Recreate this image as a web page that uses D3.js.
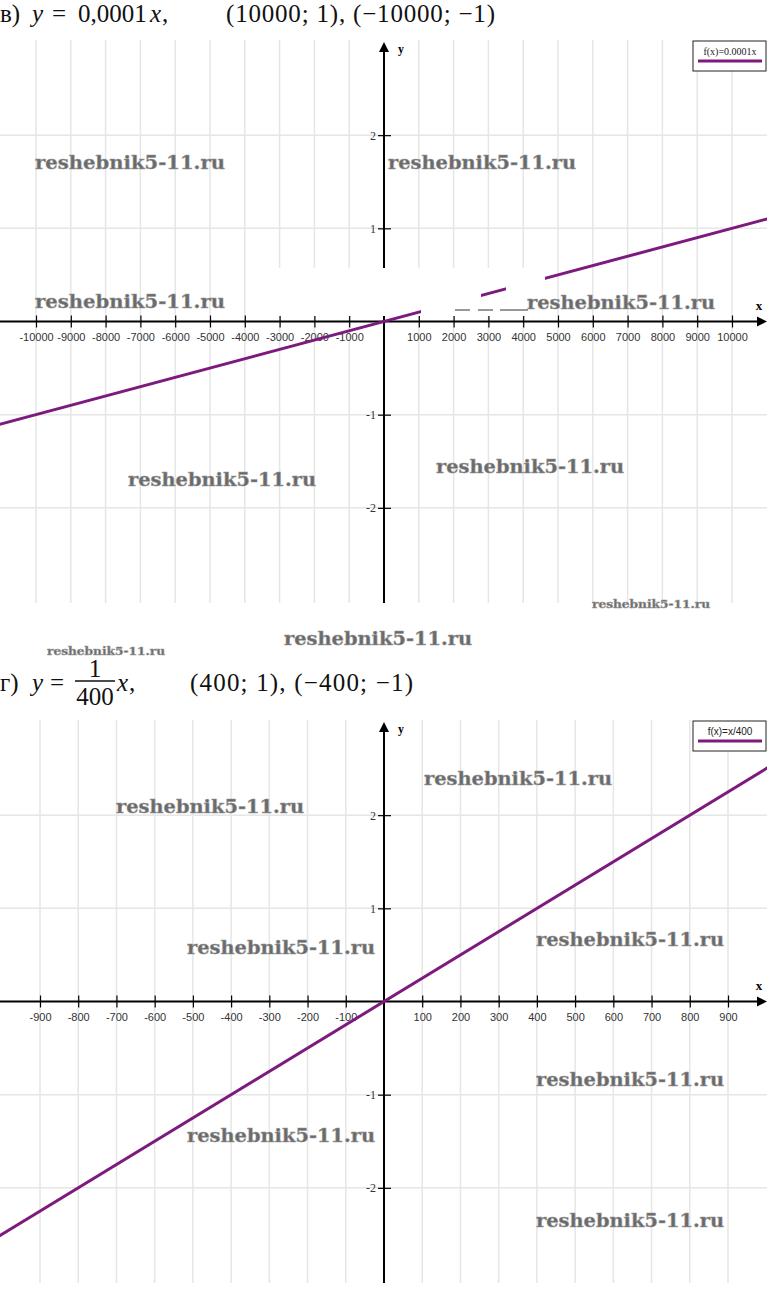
<!DOCTYPE html>
<html lang="ru">
<head>
<meta charset="UTF-8">
<title>y = 0,0001x и y = x/400</title>
<script src="https://d3js.org/d3.v7.min.js"></script>
<style>
  body, html { margin: 0; padding: 0; background: #fff; }
  svg { display: block; }
  .tick text { font-family: "Liberation Sans", Arial, sans-serif; font-size: 11px; fill: #333; }
  .wm { font-family: "DejaVu Serif", serif; font-weight: bold; fill: #6a6a6a; stroke: #9a9a9a; stroke-width: 0.5px; }
  .hdr { font-family: "Liberation Serif", "Times New Roman", serif; font-size: 25px; fill: #111; }
</style>
</head>
<body>
<svg id="chart" width="767" height="1316"></svg>
<script>
// --- chart 1: y = 0,0001x
var topXTicks = [-10000, -9000, -8000, -7000, -6000, -5000, -4000, -3000, -2000, -1000,
                 1000, 2000, 3000, 4000, 5000, 6000, 7000, 8000, 9000, 10000];
var topYTicks = [-2, -1, 1, 2];
var topLineX = [-11100, 11100];
var topLineY = [-1.11, 1.11];
var topLegend = "f(x)=0.0001x";

// --- chart 2: y = x/400
var botXTicks = [-900, -800, -700, -600, -500, -400, -300, -200, -100,
                 100, 200, 300, 400, 500, 600, 700, 800, 900];
var botYTicks = [-2, -1, 1, 2];
var botLineX = [-1010, 1010];
var botLineY = [-2.525, 2.525];
var botLegend = "f(x)=x/400";

// watermarks: [x, baseline, size, width]
var marks = [
  [35, 169, 19, 190], [388, 169, 19, 188], [35, 308, 19, 190], [527, 309, 19, 188],
  [128, 486, 19, 188], [436, 473, 19, 188], [592, 608, 11, 118], [284, 645, 19, 188],
  [47, 655, 11, 118],
  [424, 785, 19, 188], [116, 813, 19, 188], [536, 946, 19, 188], [187, 954, 19, 188],
  [536, 1086, 19, 188], [187, 1142, 19, 188], [536, 1227, 19, 188]
];

var svg = d3.select("#chart"),
    W = 767;

var plain = function (d) { return String(d); };   // "-10000", no grouping, plain hyphen

function drawPlot(opt) {
  var g = svg.append("g");
  var x = d3.scaleLinear().domain(opt.xd).range(opt.xr),
      y = d3.scaleLinear().domain([-3, 3]).range([opt.bottom, opt.top]);
  var x0 = x(0), y0 = y(0);

  // grid
  g.selectAll(".vg").data(opt.xt).enter().append("line")
    .attr("x1", d => x(d)).attr("x2", d => x(d))
    .attr("y1", opt.top - 2).attr("y2", opt.bottom + 2)
    .attr("stroke", "#e6e6e6").attr("stroke-width", 1.5);
  g.selectAll(".hg").data(opt.yt).enter().append("line")
    .attr("x1", 0).attr("x2", W)
    .attr("y1", d => y(d)).attr("y2", d => y(d))
    .attr("stroke", "#e6e6e6").attr("stroke-width", 1.5);

  // x axis
  var xa = g.append("g").attr("transform", "translate(0," + y0 + ")")
    .call(d3.axisBottom(x).tickValues(opt.xt).tickSizeInner(6).tickSizeOuter(0).tickPadding(6).tickFormat(plain));
  xa.select(".domain").remove();
  xa.selectAll(".tick line").attr("y1", -6).attr("stroke", "#000").attr("stroke-width", 1.2);
  g.append("line").attr("x1", 0).attr("x2", W - 6).attr("y1", y0).attr("y2", y0)
    .attr("stroke", "#000").attr("stroke-width", 2);
  g.append("path").attr("d", d3.line()([[W - 10, y0 - 5], [W, y0], [W - 10, y0 + 5]]) + "Z")
    .attr("fill", "#000");
  g.append("text").attr("x", W - 8).attr("y", y0 - 12).attr("text-anchor", "middle")
    .style("font", "bold 13px 'Liberation Serif', serif").text("x");

  // y axis
  var ya = g.append("g").attr("transform", "translate(" + x0 + ",0)")
    .call(d3.axisLeft(y).tickValues(opt.yt).tickSizeInner(6).tickSizeOuter(0).tickPadding(2).tickFormat(plain));
  ya.select(".domain").remove();
  ya.selectAll(".tick line").attr("x1", 7).attr("stroke", "#000").attr("stroke-width", 1.2);
  ya.selectAll(".tick text").style("font-family", "'Liberation Serif', serif").style("font-size", "12px");
  g.append("line").attr("x1", x0).attr("x2", x0).attr("y1", opt.top + 6).attr("y2", opt.bottom + 2)
    .attr("stroke", "#000").attr("stroke-width", 2);
  g.append("path").attr("d", d3.line()([[x0 - 5, opt.top + 10], [x0, opt.top], [x0 + 5, opt.top + 10]]) + "Z")
    .attr("fill", "#000");
  g.append("text").attr("x", x0 + 17).attr("y", opt.top + 11).attr("text-anchor", "middle")
    .style("font", "bold 12px 'Liberation Serif', serif").text("y");

  if (opt.mask) opt.mask(g, x, y);

  // function line
  g.append("path")
    .attr("d", d3.line().x(d => x(d[0])).y(d => y(d[1]))(d3.zip(opt.lx, opt.ly)))
    .attr("fill", "none").attr("stroke", "#7d1a7d").attr("stroke-width", 3);

  if (opt.mask2) opt.mask2(g, x, y);

  // legend
  var lg = g.append("g").attr("transform", "translate(693," + (opt.top - 1) + ")");
  lg.append("rect").attr("width", 73).attr("height", 30).attr("fill", "#fff")
    .attr("stroke", "#222").attr("stroke-width", 1);
  lg.append("text").attr("x", 37).attr("y", 14).attr("text-anchor", "middle")
    .style("font-family", opt.legendFont).style("font-size", "10px").attr("fill", "#222")
    .text(opt.legend);
  lg.append("line").attr("x1", 5).attr("x2", 69).attr("y1", 20).attr("y2", 20)
    .attr("stroke", "#7d1a7d").attr("stroke-width", 3);
}

drawPlot({
  xd: [-10000, 10000], xr: [36, 732], top: 42, bottom: 601,
  xt: topXTicks, yt: topYTicks, lx: topLineX, ly: topLineY,
  legend: topLegend, legendFont: "'Liberation Serif', serif",
  mask: function (g) {
    // erased patch near the origin
    g.append("rect").attr("x", 258).attr("y", 268).attr("width", 287).attr("height", 48).attr("fill", "#fff");
  },
  mask2: function (g) {
    g.append("rect").attr("x", 421).attr("y", 268).attr("width", 60).attr("height", 46).attr("fill", "#fff");
    g.append("rect").attr("x", 506).attr("y", 268).attr("width", 39).attr("height", 34).attr("fill", "#fff");
    g.append("path").attr("d", "M455,310H470M478,310H493M500,310H528")
      .attr("stroke", "#333").attr("stroke-width", 1).attr("fill", "none");
  }
});

drawPlot({
  xd: [-900, 900], xr: [40, 728], top: 722, bottom: 1281,
  xt: botXTicks, yt: botYTicks, lx: botLineX, ly: botLineY,
  legend: botLegend, legendFont: "'Liberation Sans', sans-serif"
});

// headers
var h1 = svg.append("text").attr("class", "hdr").attr("y", 22);
h1.append("tspan").attr("x", 0).text("в)");
h1.append("tspan").attr("x", 32).style("font-style", "italic").text("y");
h1.append("tspan").attr("x", 52).text("=");
h1.append("tspan").attr("x", 78).text("0,0001");
h1.append("tspan").attr("x", 150).style("font-style", "italic").text("x");
h1.append("tspan").attr("x", 162).text(",");
svg.append("text").attr("class", "hdr").attr("x", 226).attr("y", 22)
  .attr("textLength", 269).attr("lengthAdjust", "spacing")
  .text("(10000; 1), (−10000; −1)");

var h2 = svg.append("text").attr("class", "hdr").attr("y", 691);
h2.append("tspan").attr("x", 0).text("г)");
h2.append("tspan").attr("x", 32).style("font-style", "italic").text("y");
h2.append("tspan").attr("x", 50).text("=");
h2.append("tspan").attr("x", 117).style("font-style", "italic").text("x");
h2.append("tspan").attr("x", 129).text(",");
svg.append("text").attr("class", "hdr").attr("x", 95).attr("y", 677).attr("text-anchor", "middle").text("1");
svg.append("line").attr("x1", 75).attr("x2", 115).attr("y1", 681).attr("y2", 681)
  .attr("stroke", "#111").attr("stroke-width", 1.3);
svg.append("text").attr("class", "hdr").attr("x", 95).attr("y", 705).attr("text-anchor", "middle").text("400");
svg.append("text").attr("class", "hdr").attr("x", 190).attr("y", 691)
  .attr("textLength", 223).attr("lengthAdjust", "spacing")
  .text("(400; 1), (−400;  −1)");

// watermarks
svg.selectAll(".wm").data(marks).enter().append("text")
  .attr("class", "wm")
  .attr("x", d => d[0]).attr("y", d => d[1])
  .attr("textLength", d => d[3]).attr("lengthAdjust", "spacingAndGlyphs")
  .style("font-size", d => d[2] + "px")
  .text("reshebnik5-11.ru");
</script>
</body>
</html>
